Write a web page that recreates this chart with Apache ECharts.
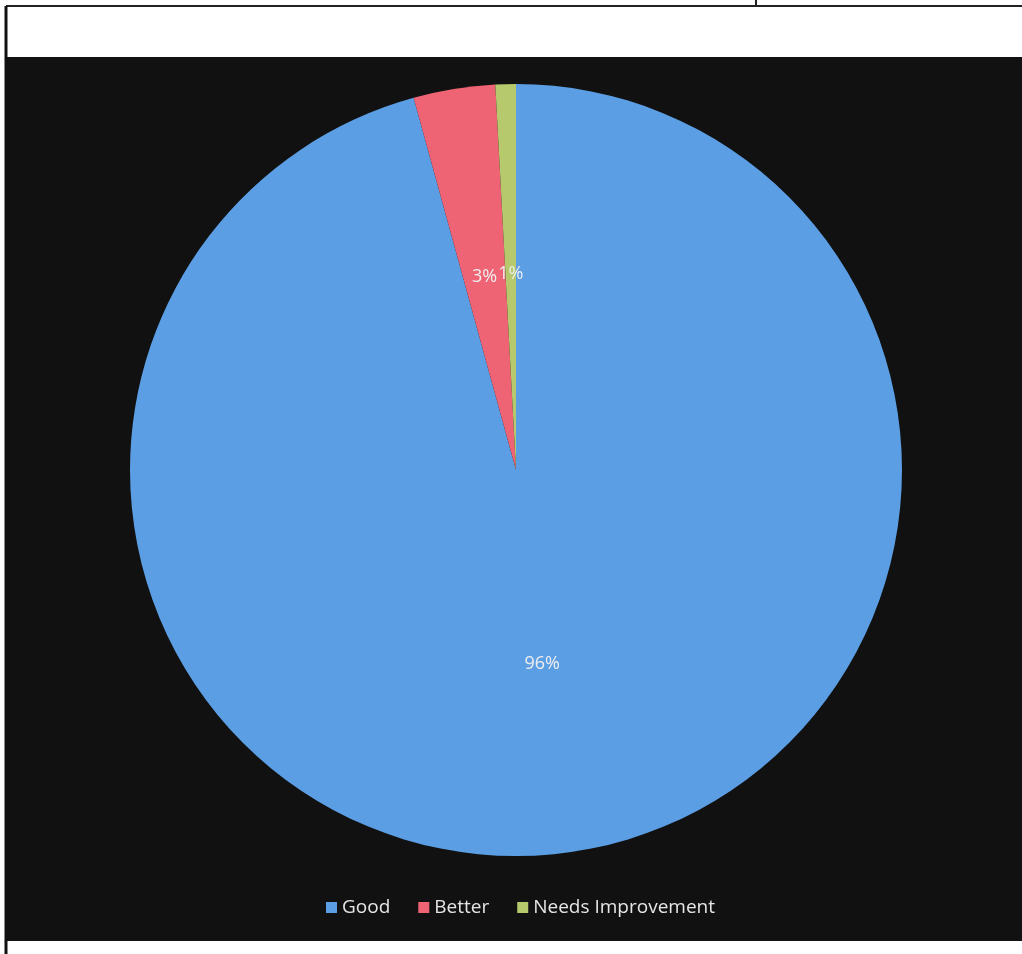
<!DOCTYPE html>
<html>
<head>
<meta charset="utf-8">
<script src="https://cdn.jsdelivr.net/npm/echarts@6/dist/echarts.min.js"></script>
<style>
html,body{margin:0;padding:0;background:#fff;}
#chart{width:1022px;height:954px;}
</style>
</head>
<body>
<div id="chart"></div>
<script>
const categories = ['Good', 'Better', 'Needs Improvement'];
const values = [112, 4, 1];
const colors = ['#5b9ee4', '#ee6474', '#b6c96c'];

const chart = echarts.init(document.getElementById('chart'));
chart.setOption({
  backgroundColor: '#ffffff',
  animation: false,
  color: colors,
  graphic: [
    { type: 'rect', shape: { x: 7, y: 57, width: 1015, height: 884 }, style: { fill: '#111111' }, z: -10 },
    { type: 'line', shape: { x1: 6, y1: 6, x2: 1022, y2: 6 }, style: { stroke: '#222', lineWidth: 2 }, z: -5 },
    { type: 'line', shape: { x1: 756, y1: 0, x2: 756, y2: 6 }, style: { stroke: '#222', lineWidth: 2 }, z: -5 },
    { type: 'line', shape: { x1: 6, y1: 6, x2: 6, y2: 954 }, style: { stroke: '#111', lineWidth: 3 }, z: -5 }
  ],
  legend: {
    data: categories,
    left: 321,
    top: 893,
    itemWidth: 11,
    itemHeight: 11,
    itemGap: 28,
    icon: 'rect',
    textStyle: { color: '#e6e6e6', fontSize: 19, fontFamily: 'Open Sans' }
  },
  series: [{
    type: 'pie',
    center: [516, 470],
    radius: 386,
    startAngle: 90,
    clockwise: true,
    percentPrecision: 0,
    data: categories.map((c, i) => ({ name: c, value: values[i] })),
    label: {
      show: true,
      position: 'inside',
      formatter: '{d}%',
      color: '#eeeeee',
      fontSize: 18,
      fontFamily: 'Open Sans'
    },
    labelLayout: { hideOverlap: false },
    labelLine: { show: false },
    itemStyle: { borderWidth: 0 },
    emphasis: { disabled: true }
  }]
});
</script>
</body>
</html>
